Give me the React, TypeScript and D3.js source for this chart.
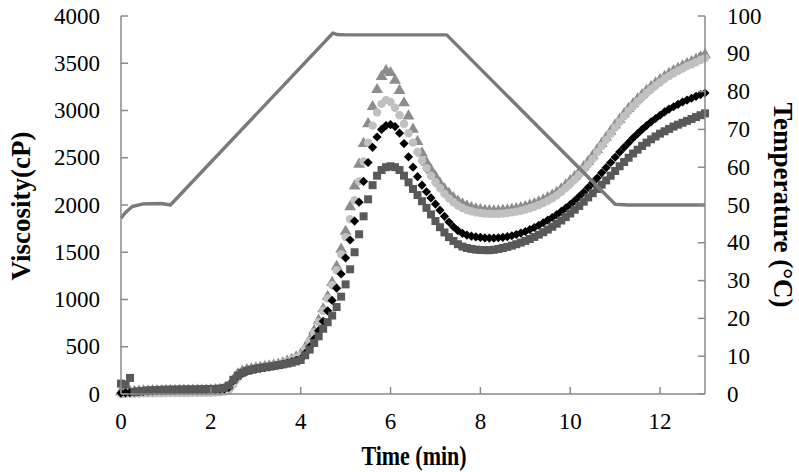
import React from "react";
import * as d3 from "d3";

// sampling grid (min) for the viscosity curves
const time = d3.range(131).map(i => +(i * 0.1).toFixed(1));

// dark grey squares
const squares = [
  110, 100, 170, 20, 28, 33, 37, 40, 42, 44,
  45, 46, 46, 47, 47, 48, 48, 49, 50, 51,
  52, 54, 57, 65, 90, 150, 195, 225, 245, 258,
  268, 276, 283, 290, 297, 305, 313, 322, 332, 345,
  360, 410, 470, 540, 610, 690, 760, 830, 920, 1030,
  1160, 1320, 1500, 1690, 1880, 2060, 2210, 2310, 2370, 2400,
  2410, 2400, 2370, 2310, 2240, 2170, 2105, 2040, 1970, 1900,
  1830, 1765, 1710, 1660, 1620, 1585, 1560, 1545, 1535, 1528,
  1524, 1522, 1522, 1526, 1535, 1545, 1557, 1570, 1585, 1602,
  1620, 1640, 1662, 1686, 1712, 1740, 1770, 1802, 1836, 1872,
  1910, 1950, 1990, 2035, 2080, 2125, 2170, 2215, 2260, 2310,
  2360, 2410, 2455, 2500, 2545, 2585, 2625, 2660, 2695, 2725,
  2755, 2780, 2805, 2830, 2850, 2870, 2890, 2910, 2930, 2950,
  2970,
];

// black diamonds
const diamonds = [
  10, 12, 15, 20, 24, 27, 30, 32, 34, 35,
  36, 37, 38, 38, 39, 40, 40, 41, 42, 43,
  44, 46, 48, 55, 70, 140, 190, 220, 240, 252,
  262, 270, 278, 286, 295, 304, 314, 326, 340, 355,
  370, 430, 500, 580, 670, 770, 880, 990, 1120, 1270,
  1440, 1630, 1830, 2030, 2250, 2450, 2610, 2720, 2800, 2840,
  2850, 2830, 2760, 2650, 2510, 2400, 2300, 2210, 2140, 2075,
  2010, 1945, 1880, 1820, 1770, 1728, 1700, 1682, 1670, 1662,
  1657, 1652, 1650, 1650, 1653, 1658, 1665, 1675, 1688, 1703,
  1720, 1740, 1762, 1786, 1812, 1840, 1868, 1898, 1932, 1968,
  2005, 2045, 2090, 2135, 2185, 2235, 2285, 2340, 2395, 2450,
  2505, 2560, 2610, 2660, 2710, 2755, 2800, 2840, 2880, 2915,
  2950, 2985, 3015, 3040, 3065, 3090, 3110, 3130, 3150, 3168,
  3185,
];

// light grey circles
const circles = [
  0, 2, 4, 5, 6, 7, 8, 8, 9, 9,
  10, 10, 10, 11, 11, 11, 12, 12, 12, 13,
  14, 15, 18, 25, 40, 100, 170, 215, 240, 255,
  265, 273, 282, 292, 302, 313, 326, 342, 362, 385,
  410, 480, 560, 650, 760, 880, 1010, 1150, 1310, 1480,
  1660, 1850, 2050, 2250, 2460, 2660, 2840, 2980, 3070, 3110,
  3090, 3030, 2950, 2860, 2760, 2660, 2560, 2470, 2390, 2310,
  2240, 2180, 2120, 2070, 2030, 1995, 1968, 1948, 1933, 1922,
  1915, 1910, 1907, 1906, 1907, 1910, 1915, 1922, 1930, 1940,
  1952, 1966, 1982, 2000, 2022, 2046, 2072, 2102, 2140, 2180,
  2225, 2270, 2320, 2375, 2430, 2490, 2560, 2625, 2690, 2755,
  2820, 2880, 2940, 2995, 3045, 3095, 3140, 3185, 3225, 3265,
  3300, 3335, 3365, 3395, 3420, 3445, 3470, 3490, 3510, 3535,
  3555,
];

// grey triangles
const triangles = [
  20, 22, 25, 27, 29, 31, 32, 33, 34, 35,
  36, 37, 37, 38, 38, 39, 39, 40, 40, 41,
  42, 44, 47, 55, 80, 150, 210, 240, 255, 265,
  272, 280, 288, 296, 305, 315, 328, 345, 365, 390,
  420, 490, 570, 670, 780, 900, 1030, 1180, 1350, 1530,
  1720, 1980, 2200, 2430, 2650, 2860, 3040, 3220, 3360, 3420,
  3400, 3320, 3210, 3080, 2940, 2800, 2670, 2550, 2450, 2370,
  2300, 2230, 2170, 2120, 2075, 2040, 2010, 1988, 1970, 1958,
  1948, 1942, 1938, 1936, 1937, 1940, 1945, 1952, 1960, 1970,
  1982, 1996, 2012, 2030, 2052, 2076, 2102, 2132, 2170, 2210,
  2255, 2300, 2350, 2405, 2460, 2520, 2585, 2650, 2715, 2780,
  2845, 2905, 2965, 3020, 3070, 3120, 3165, 3210, 3250, 3290,
  3325, 3360, 3390, 3420, 3445, 3470, 3495, 3515, 3540, 3565,
  3590,
];

// temperature profile (right axis)
const tempTime = [0, 0.1, 0.25, 0.5, 0.9, 1.1, 4.72, 4.8, 5.0, 7.25, 11.0, 11.3, 13];
const tempVal = [46.5, 48, 49.6, 50.3, 50.4, 50, 95.5, 95.1, 95, 95, 50.2, 50, 50];

const xTicks = [0, 2, 4, 6, 8, 10, 12];
const yTicks = [0, 500, 1000, 1500, 2000, 2500, 3000, 3500, 4000];
const tTicks = [0, 10, 20, 30, 40, 50, 60, 70, 80, 90, 100];

const W = 799, H = 472;
const left = 121, right = 705, top = 16, bottom = 394;
const axisColor = "#8a8a8a";
const font = "'Liberation Serif', 'Times New Roman', serif";

export default function App() {
  const x = d3.scaleLinear().domain([0, 13]).range([left, right]);
  const y = d3.scaleLinear().domain([0, 4000]).range([bottom, top]);
  const yT = d3.scaleLinear().domain([0, 100]).range([bottom, top]);

  const sq = d3.symbol(d3.symbolSquare, 64)();
  const dm = d3.symbol(d3.symbolSquare, 42)();
  const tri = d3.symbol(d3.symbolTriangle, 60)();
  const circ = d3.symbol(d3.symbolCircle, 56)();

  const series = [
    { vals: triangles, path: tri, color: "#8c8c8c", rot: 0 },
    { vals: circles, path: circ, color: "#c0c0c0", rot: 0 },
    { vals: diamonds, path: dm, color: "#000000", rot: 45 },
    { vals: squares, path: sq, color: "#595959", rot: 0 },
  ];

  const tempLine = d3.line<number>()
    .x((_, i) => x(tempTime[i]))
    .y(d => yT(d));

  return (
    <svg width={W} height={H} style={{ position: "absolute", left: 0, top: 0, background: "#fff" }}
      fontFamily={font}>
      {/* markers */}
      {series.map((s, si) => (
        <g key={si} fill={s.color}>
          {s.vals.map((v, i) => (
            <path key={i} d={s.path}
              transform={`translate(${x(time[i])},${y(v)})${s.rot ? ` rotate(${s.rot})` : ""}`} />
          ))}
        </g>
      ))}

      {/* temperature line */}
      <path d={tempLine(tempVal) || ""} fill="none" stroke="#7a7a7a" strokeWidth={3.4}
        strokeLinejoin="round" />

      {/* axes */}
      <g stroke={axisColor} strokeWidth={1.5} fill="none">
        <line x1={left} x2={left} y1={top} y2={bottom} />
        <line x1={right} x2={right} y1={top} y2={bottom} />
        <line x1={left} x2={right} y1={bottom} y2={bottom} />
        {yTicks.map(t => <line key={"l" + t} x1={left} x2={left + 7} y1={y(t)} y2={y(t)} />)}
        {tTicks.map(t => <line key={"r" + t} x1={right - 7} x2={right} y1={yT(t)} y2={yT(t)} />)}
        {xTicks.map(t => <line key={"b" + t} x1={x(t)} x2={x(t)} y1={bottom - 7} y2={bottom} />)}
      </g>

      {/* tick labels */}
      <g fontSize={23} fill="#000">
        {yTicks.map(t => (
          <text key={t} x={100} y={y(t)} textAnchor="end" dominantBaseline="central">{t}</text>
        ))}
        {tTicks.map(t => (
          <text key={t} x={727} y={yT(t)} textAnchor="start" dominantBaseline="central">{t}</text>
        ))}
        {xTicks.map(t => (
          <text key={t} x={x(t)} y={421} textAnchor="middle" dominantBaseline="central">{t}</text>
        ))}
      </g>

      {/* axis titles */}
      <g fontWeight="bold" fill="#000">
        <text transform="translate(414,456) scale(1,1.2)" fontSize={22} textAnchor="middle"
          dominantBaseline="central">Time (min)</text>
        <text transform={`translate(21,206) rotate(-90)`} fontSize={27} textAnchor="middle"
          dominantBaseline="central">
          Viscosity(cP)
        </text>
        <text transform={`translate(783,205) rotate(90)`} fontSize={27} textAnchor="middle"
          dominantBaseline="central">
          Temperature (°C)
        </text>
      </g>
    </svg>
  );
}
